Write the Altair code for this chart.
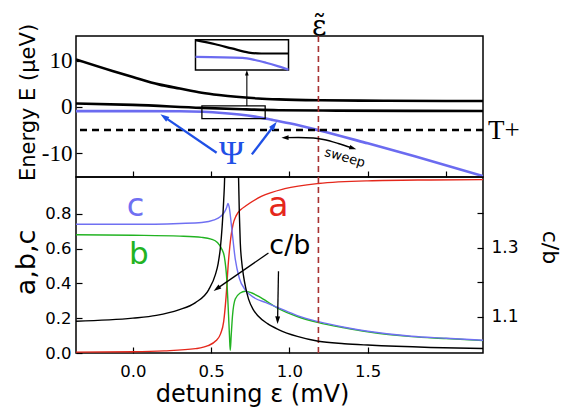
import math
import altair as alt
import pandas as pd

# ---------------- data ----------------
# upper panel: energy levels E (μeV) vs detuning ε (mV)
upper_x = [-0.363, -0.13, 0.0, 0.166, 0.3, 0.44, 0.55, 0.66, 0.8, 0.93, 1.2, 1.6, 2.0, 2.236]
upper_E = [10.3, 7.8, 6.5, 4.9, 4.0, 3.1, 2.6, 2.2, 1.85, 1.65, 1.45, 1.35, 1.3, 1.3]
middle_x = [-0.363, 0.0, 0.44, 0.7, 0.93, 1.3, 1.8, 2.236]
middle_E = [0.75, 0.45, -0.2, -0.5, -0.7, -0.8, -0.86, -0.87]
psi_x = [-0.363, 0.0, 0.3, 0.45, 0.57, 0.68, 0.78, 0.89, 1.0, 1.185, 1.5, 1.8, 2.236]
psi_E = [-0.9, -0.9, -0.92, -1.05, -1.3, -1.65, -2.1, -2.8, -3.55, -5.05, -7.9, -10.7, -15.0]
tplus_E = [-5.0]
eps_tilde = [1.185]

# zoomed inset of the anticrossing
inset_box_x = [0.40, 0.994]
inset_box_E = [8.04, 14.57]
inset_black_x = [0.40, 0.527, 0.632, 0.74, 0.82, 0.994]
inset_black_E = [14.5, 13.6, 12.7, 11.8, 11.6, 11.6]
inset_blue_x = [0.40, 0.70, 0.78, 0.85, 0.93, 0.994]
inset_blue_E = [10.85, 10.65, 10.2, 9.6, 8.8, 8.1]
zoom_box_x = [0.441, 0.845]
zoom_box_E = [-2.54, 0.22]
link_x = [0.728]
link_E = [0.22, 8.04]

# annotation arrows (tail -> head)
psi_tail_x = [0.535, 0.76]
psi_tail_E = [-9.93, -10.3]
psi_head_x = [0.176, 0.919]
psi_head_E = [-1.59, -3.2]
sweep_x = [0.949, 1.057, 1.153, 1.217, 1.312, 1.427]
sweep_E = [-6.67, -6.63, -6.74, -7.07, -7.93, -9.19]

# lower panel: a, b, c (left axis) and c/b (right axis)
a_x = [-0.363, 0.0, 0.2, 0.4, 0.48, 0.53, 0.56, 0.58, 0.595, 0.61, 0.625, 0.64, 0.66, 0.69, 0.72, 0.82, 0.97, 1.185, 1.5, 1.9, 2.236]
a_v = [0.005, 0.007, 0.012, 0.025, 0.042, 0.07, 0.11, 0.18, 0.32, 0.52, 0.66, 0.74, 0.79, 0.825, 0.845, 0.90, 0.945, 0.975, 0.99, 0.995, 0.997]
b_x = [-0.363, 0.0, 0.3, 0.44, 0.5, 0.54, 0.567, 0.585, 0.6, 0.611, 0.617, 0.622, 0.628, 0.636, 0.654, 0.686, 0.718, 0.76, 0.82, 0.93, 1.05, 1.185, 1.35, 1.5, 1.78, 2.0, 2.236]
b_v = [0.68, 0.677, 0.672, 0.665, 0.655, 0.635, 0.6, 0.55, 0.42, 0.22, 0.1, 0.015, 0.1, 0.21, 0.31, 0.345, 0.355, 0.345, 0.317, 0.255, 0.21, 0.175, 0.145, 0.122, 0.094, 0.083, 0.071]
c_x = [-0.363, 0.0, 0.3, 0.44, 0.52, 0.56, 0.585, 0.6, 0.607, 0.615, 0.63, 0.654, 0.68, 0.72, 0.78, 0.85, 0.93, 1.05, 1.185, 1.35, 1.5, 1.78, 2.0, 2.236]
c_v = [0.74, 0.74, 0.745, 0.75, 0.765, 0.785, 0.81, 0.84, 0.86, 0.84, 0.73, 0.54, 0.43, 0.36, 0.315, 0.29, 0.26, 0.215, 0.18, 0.148, 0.125, 0.096, 0.085, 0.073]
cb_x = [-0.363, 0.0, 0.15, 0.293, 0.4, 0.484, 0.527, 0.545, 0.559, 0.57, 0.58, 0.587, 0.6, 0.622, 0.645, 0.672, 0.675, 0.68, 0.686, 0.695, 0.707, 0.72, 0.739, 0.77, 0.8, 0.86, 0.93, 1.05, 1.185, 1.35, 1.5, 1.9, 2.236]
cb_r = [1.087, 1.096, 1.104, 1.12, 1.141, 1.178, 1.222, 1.255, 1.30, 1.36, 1.437, 1.52, 3.0, 40.0, 3.0, 1.55, 1.505, 1.40, 1.315, 1.26, 1.218, 1.185, 1.151, 1.12, 1.102, 1.08, 1.063, 1.043, 1.029, 1.022, 1.018, 1.011, 1.008]
cb_tail_x = [0.866, 0.93]
cb_tail_v = [0.575, 0.47]
cb_head_x = [0.516, 0.924]
cb_head_v = [0.357, 0.167]

# text labels
top_labels = ["Ψ", "T+", "ε̃", "sweep"]
top_label_x = [0.63, 2.268, 1.19, 1.354]
top_label_E = [-10.3, -5.2, 15.6, -11.0]
bottom_labels = ["c", "b", "a", "c/b"]
bottom_label_x = [0.017, 0.038, 0.93, 1.003]
bottom_label_v = [0.788, 0.51, 0.788, 0.57]

x_tick_values = [0.0, 0.5, 1.0, 1.5, 2.0]
x_label_values = [0.0, 0.5, 1.0, 1.5]
E_tick_values = [-10, -5, 0, 5, 10]
v_tick_values = [0.0, 0.2, 0.4, 0.6, 0.8]
r_tick_values = [1.1, 1.2, 1.3, 1.4]

# ---------------- layout / style ----------------
W, H_TOP, H_BOT = 407, 141, 176
X_DOM = [-0.363, 2.236]
E_DOM = [-15.2, 15.4]
V_DOM = [0.0, 1.012]
R_DOM = [0.995, 1.505]
KX = W / (X_DOM[1] - X_DOM[0])
KE = H_TOP / (E_DOM[1] - E_DOM[0])
KV = H_BOT / (V_DOM[1] - V_DOM[0])

SANS = "DejaVu Sans"
SERIF = "Liberation Serif"
BLUE_LINE = "#6b6bf0"
BLUE_C = "#7070f2"
ARROW_BLUE = "#1f50e6"
RED = "#e5281c"
GREEN = "#22b322"
DASH_RED = "#a83232"

xsc = alt.Scale(domain=X_DOM, nice=False, zero=False)
esc = alt.Scale(domain=E_DOM, nice=False, zero=False)
vsc = alt.Scale(domain=V_DOM, nice=False, zero=False)
rsc = alt.Scale(domain=R_DOM, nice=False, zero=False)

TICK = dict(domain=False, grid=False, offset=-6, tickSize=6, tickWidth=1.2, tickColor="black")
U = alt.Undefined


def X(axis=U):
    return alt.X("x:Q", scale=xsc, axis=axis)


def Y(ycol, ysc, axis=U):
    return alt.Y(f"{ycol}:Q", scale=ysc, axis=axis)


def series(xs, ys, ycol):
    return pd.DataFrame({"x": xs, ycol: ys, "i": list(range(len(xs)))})


def curve(xs, ys, ycol, ysc, color, width, xaxis=U, yaxis=U, clip=True):
    return alt.Chart(series(xs, ys, ycol)).mark_line(
        clip=clip, color=color, strokeWidth=width, interpolate="monotone").encode(
        x=X(xaxis), y=Y(ycol, ysc, yaxis), order="i:Q")


HEAD = "M0,0L-0.55,1.7L0.55,1.7Z"


def arrows(tx, ty, hx, hy, ky, ycol, ysc, color, width, size):
    lines, heads = [], []
    back = math.sqrt(size) / 2 * 1.2
    for k, (x0, y0, x1, y1) in enumerate(zip(tx, ty, hx, hy)):
        dxp = (x1 - x0) * KX
        dyp = (y1 - y0) * ky
        L = math.hypot(dxp, dyp)
        ang = math.degrees(math.atan2(dxp, dyp)) % 360
        xe = x1 - dxp / L * back / KX
        ye = y1 - dyp / L * back / ky
        lines += [{"id": k, "k": 0, "x": x0, ycol: y0}, {"id": k, "k": 1, "x": xe, ycol: ye}]
        heads.append({"x": x1, ycol: y1, "ang": ang})
    ln = alt.Chart(pd.DataFrame(lines)).mark_line(color=color, strokeWidth=width).encode(
        x=X(), y=Y(ycol, ysc), detail="id:N", order="k:Q")
    hd = alt.Chart(pd.DataFrame(heads)).mark_point(
        shape=HEAD, filled=True, opacity=1, size=size, color=color).encode(
        x=X(), y=Y(ycol, ysc), angle=alt.Angle("ang:Q", scale=None))
    return [ln, hd]


def text(x, y, ycol, ysc, t, font, size, color, align="center", baseline="middle", angle=0):
    df = pd.DataFrame({"x": [x], ycol: [y], "t": [t]})
    return alt.Chart(df).mark_text(font=font, fontSize=size, color=color, align=align,
                                   baseline=baseline, angle=angle).encode(
        x=X(), y=Y(ycol, ysc), text="t:N")


# ---------------- upper panel ----------------
top_xaxis = alt.Axis(values=x_tick_values, labels=False, title=None, **TICK)
top_yaxis = alt.Axis(
    values=E_tick_values, labelExpr="datum.value % 10 == 0 ? '' + datum.value : ''",
    labelFont=SERIF, labelFontSize=23, labelColor="black", labelPadding=4,
    title="Energy E (μeV)", titleFont=SANS, titleFontSize=21, titleFontWeight="normal",
    titleColor="black", titleAngle=270, titleBaseline="middle", titleX=-54, titleY=66, **TICK)

upper = curve(upper_x, upper_E, "E", esc, "black", 2.6, top_xaxis, top_yaxis)
middle = curve(middle_x, middle_E, "E", esc, "black", 2.6)
psi = curve(psi_x, psi_E, "E", esc, BLUE_LINE, 2.6)

tplus = alt.Chart(pd.DataFrame({"E": tplus_E})).mark_rule(
    color="black", strokeWidth=2.5, strokeDash=[7, 5]).encode(y=Y("E", esc))
vline_top = alt.Chart(pd.DataFrame({"x": eps_tilde})).mark_rule(
    color=DASH_RED, strokeWidth=1.6, strokeDash=[6, 4]).encode(x=X())

inset_box = alt.Chart(pd.DataFrame({"x": [inset_box_x[0]], "x2": [inset_box_x[1]],
                                    "E": [inset_box_E[0]], "E2": [inset_box_E[1]]})).mark_rect(
    fill="white", stroke="black", strokeWidth=1.5).encode(x=X(), x2="x2:Q", y=Y("E", esc), y2="E2:Q")
zoom_box = alt.Chart(pd.DataFrame({"x": [zoom_box_x[0]], "x2": [zoom_box_x[1]],
                                   "E": [zoom_box_E[0]], "E2": [zoom_box_E[1]]})).mark_rect(
    fillOpacity=0, stroke="black", strokeWidth=1.3).encode(x=X(), x2="x2:Q", y=Y("E", esc), y2="E2:Q")
inset_black = curve(inset_black_x, inset_black_E, "E", esc, "black", 2.2)
inset_blue = curve(inset_blue_x, inset_blue_E, "E", esc, BLUE_LINE, 2.2)
link = arrows(link_x, [link_E[0]], link_x, [link_E[1]], KE, "E", esc, "black", 1.1, 45)
psi_arrows = arrows(psi_tail_x, psi_tail_E, psi_head_x, psi_head_E, KE, "E", esc, ARROW_BLUE, 2.3, 110)

# sweep double arrow
SW_SIZE = 70
sw_back = math.sqrt(SW_SIZE) / 2 * 1.2


def _end(i_end, i_prev):
    dxp = (sweep_x[i_end] - sweep_x[i_prev]) * KX
    dyp = (sweep_E[i_end] - sweep_E[i_prev]) * KE
    L = math.hypot(dxp, dyp)
    ang = math.degrees(math.atan2(dxp, dyp)) % 360
    return (sweep_x[i_end] - dxp / L * sw_back / KX, sweep_E[i_end] - dyp / L * sw_back / KE, ang)


x0s, e0s, ang0 = _end(0, 1)
x1s, e1s, ang1 = _end(len(sweep_x) - 1, len(sweep_x) - 2)
sweep_line = curve([x0s] + sweep_x[1:-1] + [x1s], [e0s] + sweep_E[1:-1] + [e1s],
                   "E", esc, "black", 1.4, clip=False)
sweep_heads = alt.Chart(pd.DataFrame({"x": [sweep_x[0], sweep_x[-1]], "E": [sweep_E[0], sweep_E[-1]],
                                      "ang": [ang0, ang1]})).mark_point(
    shape=HEAD, filled=True, opacity=1, size=SW_SIZE, color="black").encode(
    x=X(), y=Y("E", esc), angle=alt.Angle("ang:Q", scale=None))

top_texts = [
    text(top_label_x[0], top_label_E[0], "E", esc, top_labels[0], SERIF, 34, ARROW_BLUE),
    text(top_label_x[1], top_label_E[1], "E", esc, top_labels[1], SERIF, 27, "black", align="left"),
    text(top_label_x[2], top_label_E[2], "E", esc, top_labels[2], "DejaVu Serif", 28, "black",
         baseline="alphabetic"),
    text(top_label_x[3], top_label_E[3], "E", esc, top_labels[3], SANS, 13, "black", angle=16),
]

top = alt.layer(upper, middle, psi, tplus, vline_top, inset_box, inset_black, inset_blue, zoom_box,
                *link, *psi_arrows, sweep_line, sweep_heads, *top_texts).properties(width=W, height=H_TOP)

# ---------------- lower panel ----------------
bot_xaxis = alt.Axis(values=x_label_values, format=".1f", labelFont=SANS, labelFontSize=16.5,
                     labelColor="black", labelPadding=10,
                     title="detuning ε (mV)", titleFont=SANS, titleFontSize=24, titleFontWeight="normal",
                     titleColor="black", titleX=176, titleY=35, titleBaseline="top", titleAlign="center",
                     **TICK)
bot_yaxis = alt.Axis(values=v_tick_values, format=".1f", labelFont=SANS, labelFontSize=16.5,
                     labelColor="black", labelPadding=5, title="a,b,c", titleFont=SANS, titleFontSize=27,
                     titleFontWeight="normal", titleColor="black", titleAngle=270, titleBaseline="middle",
                     titleX=-56, titleY=85, **TICK)
a_line = curve(a_x, a_v, "v", vsc, RED, 1.4, bot_xaxis, bot_yaxis)
b_line = curve(b_x, b_v, "v", vsc, GREEN, 1.4)
c_line = curve(c_x, c_v, "v", vsc, BLUE_C, 1.4)
vline_bot = alt.Chart(pd.DataFrame({"x": eps_tilde})).mark_rule(
    color=DASH_RED, strokeWidth=1.6, strokeDash=[6, 4]).encode(x=X())
cb_arrows = arrows(cb_tail_x, cb_tail_v, cb_head_x, cb_head_v, KV, "v", vsc, "black", 1.3, 80)
bot_colors = [BLUE_C, GREEN, RED, "black"]
bot_sizes = [32, 31, 33, 27]
bot_texts = [text(bottom_label_x[i], bottom_label_v[i], "v", vsc, bottom_labels[i], SANS,
                  bot_sizes[i], bot_colors[i], baseline="alphabetic") for i in range(4)]
left_group = alt.layer(a_line, b_line, c_line, vline_bot, *cb_arrows, *bot_texts)

cb_axis = alt.Axis(
    orient="right", values=r_tick_values,
    labelExpr="(datum.value == 1.1 || datum.value == 1.3) ? format(datum.value, '.1f') : ''",
    labelFont=SANS, labelFontSize=17, labelColor="black", labelPadding=8,
    title="c/b", titleFont=SANS, titleFontSize=22, titleFontWeight="normal", titleColor="black",
    titleAngle=90, titleBaseline="middle", titleX=72, titleY=70, **TICK)
cb_line = curve(cb_x, cb_r, "r", rsc, "black", 1.4, yaxis=cb_axis)

bottom = alt.layer(left_group, cb_line).resolve_scale(y="independent").properties(width=W, height=H_BOT)

chart = alt.vconcat(top, bottom, spacing=0, bounds="flush").properties(
    padding={"left": 3, "top": 4, "right": 0, "bottom": 0}, background="white"
).configure_view(stroke="black", strokeWidth=1.5)

chart.save("out.html", embed_options={"renderer": "svg", "actions": False})
